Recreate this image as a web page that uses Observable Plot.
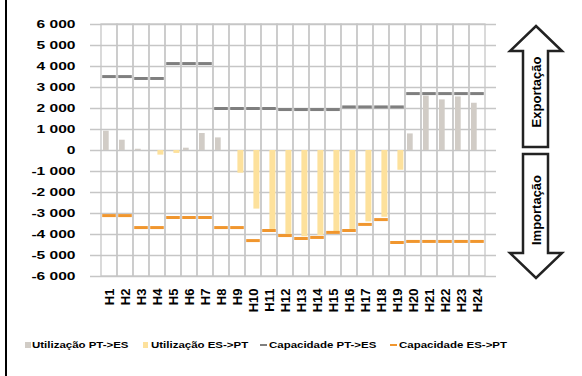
<!DOCTYPE html>
<html>
<head>
<meta charset="utf-8">
<script src="https://cdn.jsdelivr.net/npm/d3@7"></script>
<script src="https://cdn.jsdelivr.net/npm/@observablehq/plot@0.6"></script>
<style>
  html, body { margin: 0; padding: 0; background: #fff; }
  #wrap { position: relative; width: 582px; height: 376px; overflow: hidden; background: #fff; }
  #border { position: absolute; left: 5px; top: 0; width: 2px; height: 376px; background: #000; }
  #chart { position: absolute; left: 0; top: 0; }
  #arrows { position: absolute; left: 0; top: 0; }
  .leg { position: absolute; top: 338px; font: bold 9.8px "Liberation Sans", Arial, sans-serif; color: #000; white-space: nowrap; line-height: 14px; transform: scaleX(1.17); transform-origin: left center; }
  .sw { position: absolute; }
</style>
</head>
<body>
<div id="wrap">
  <div id="chart"></div>
  <div id="border"></div>
  <svg id="arrows" width="582" height="376"></svg>
  <div id="legend"></div>
</div>
<script>
const hours = ["H1","H2","H3","H4","H5","H6","H7","H8","H9","H10","H11","H12",
               "H13","H14","H15","H16","H17","H18","H19","H20","H21","H22","H23","H24"];
const utilPTES = [920, 490, 60, 0, 0, 110, 810, 600, 0, 0, 0, 0,
                  0, 0, 0, 0, 0, 0, 0, 790, 2590, 2410, 2550, 2250];
const utilESPT = [0, 0, 0, -220, -140, 0, 0, 0, -1080, -2790, -3760, -4030,
                  -4110, -4050, -3890, -3760, -3400, -3180, -940, 0, 0, 0, 0, 0];
const capPTES = [3520, 3520, 3430, 3430, 4140, 4140, 4140, 2000, 2000, 2000, 2000, 1950,
                 1950, 1950, 1950, 2075, 2075, 2075, 2075, 2710, 2710, 2710, 2710, 2710];
const capESPT = [-3100, -3100, -3670, -3670, -3190, -3190, -3190, -3670, -3670, -4290, -3810, -4050,
                 -4190, -4140, -3900, -3810, -3520, -3290, -4380, -4330, -4330, -4330, -4330, -4330];
const yTicks = [-6000, -5000, -4000, -3000, -2000, -1000, 0, 1000, 2000, 3000, 4000, 5000, 6000];
const seriesNames = ["Utilização PT->ES", "Utilização ES->PT", "Capacidade PT->ES", "Capacidade ES->PT"];
const seriesColors = ["#d1ccc6", "#fde19c", "#7f7f7f", "#f0962e"];
const arrowLabels = ["Exportação", "Importação"];

const data = hours.map((h, i) => ({hour: h, utilPT: utilPTES[i], utilES: utilESPT[i], capPT: capPTES[i], capES: capESPT[i]}));
const fmt = d => d3.format(",")(d).replace(/,/g, " ").replace("\u2212", "-");
const gridColor = "#c6c6c6";
const font = "'Liberation Sans', Arial, sans-serif";

const chart = Plot.plot({
  width: 582,
  height: 320,
  marginLeft: 90,
  marginRight: 86,
  marginTop: 24,
  marginBottom: 44,
  style: {fontFamily: font, fontWeight: "bold", fontSize: "13px", color: "#000", background: "transparent", overflow: "visible"},
  x: {domain: hours, padding: 0, label: null, tickSize: 0, tickRotate: -90, tickPadding: 12},
  y: {domain: [-6000, 6000], label: null, axis: null},
  marks: [
    Plot.ruleY(yTicks, {stroke: gridColor, strokeWidth: 1.3}),
    Plot.barY(hours, {x: d => d, y1: () => -6000, y2: () => 6000, fill: "none", stroke: gridColor, strokeWidth: 1.3}),
    Plot.barY(data, {x: "hour", y: "utilPT", fill: seriesColors[0], insetLeft: 2, insetRight: 8.3}),
    Plot.barY(data, {x: "hour", y: "utilES", fill: seriesColors[1], insetLeft: 8.4, insetRight: 1.6}),
    Plot.tickY(data, {x: "hour", y: "capPT", stroke: seriesColors[2], strokeWidth: 3, insetLeft: 1.2, insetRight: 1.2}),
    Plot.tickY(data, {x: "hour", y: "capES", stroke: seriesColors[3], strokeWidth: 3, insetLeft: 1.2, insetRight: 1.2}),
    Plot.axisY(yTicks, {tickSize: 0, tickPadding: 15, tickFormat: fmt, fontSize: 11.8, fontWeight: "bold", fontFamily: font, label: null})
  ]
});
document.getElementById("chart").appendChild(chart);
// the reference's text is horizontally widened; mimic that on the y tick labels
d3.select(chart).selectAll('g[aria-label="y-axis tick label"] text').each(function () {
  const t = this.getAttribute("transform") || "";
  this.setAttribute("transform", t + " scale(1.32,1)");
});

// decorative arrows
const svg = d3.select("#arrows");
svg.append("polygon")
  .attr("points", "536,26 562,51 548,51 548,147 523,147 523,51 510,51")
  .attr("fill", "#fff").attr("stroke", "#222").attr("stroke-width", 2.5).attr("stroke-linejoin", "miter");
svg.append("polygon")
  .attr("points", "523,154 548,154 548,253 562,253 536,278 510,253 523,253")
  .attr("fill", "#fff").attr("stroke", "#222").attr("stroke-width", 2.5).attr("stroke-linejoin", "miter");
[[arrowLabels[0], 92], [arrowLabels[1], 210]].forEach(([t, cy]) => {
  svg.append("text")
    .attr("transform", `translate(536.5,${cy}) rotate(-90)`)
    .attr("text-anchor", "middle").attr("dominant-baseline", "central")
    .style("font", `bold 13px ${font}`).attr("fill", "#000")
    .text(t);
});

// legend
const legend = document.getElementById("legend");
const legPos = [[25, 31.7], [142.7, 150.7], [260, 269], [390, 399]];
seriesNames.forEach((name, i) => {
  const [sx, tx] = legPos[i];
  const sw = document.createElement("div");
  sw.className = "sw";
  sw.style.left = sx + "px";
  if (i < 2) {
    sw.style.top = "342px"; sw.style.width = "5.5px"; sw.style.height = "5.5px";
  } else {
    sw.style.top = "344px"; sw.style.width = "7px"; sw.style.height = "2px";
  }
  sw.style.background = seriesColors[i];
  legend.appendChild(sw);
  const lab = document.createElement("div");
  lab.className = "leg";
  lab.style.left = tx + "px";
  lab.textContent = name;
  legend.appendChild(lab);
});
</script>
</body>
</html>
